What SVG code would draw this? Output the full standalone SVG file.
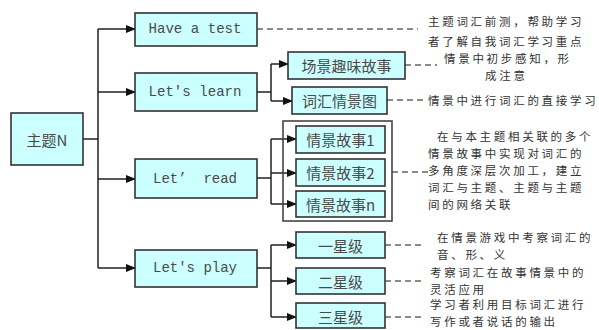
<svg xmlns="http://www.w3.org/2000/svg" width="599" height="330" viewBox="0 0 599 330">
<defs>
<marker id="ah" markerWidth="10" markerHeight="8" refX="9" refY="4" orient="auto" markerUnits="userSpaceOnUse">
<path d="M0,0 L10,4 L0,8 Z" fill="#111"/>
</marker>
<style>
.box{fill:#ccffff;stroke:#333;stroke-width:1.6}
.grp{fill:none;stroke:#444;stroke-width:1.6}
.ln{fill:none;stroke:#222;stroke-width:1.5}
.ar{fill:none;stroke:#222;stroke-width:1.5;marker-end:url(#ah)}
.ds{fill:none;stroke:#666;stroke-width:1.5;stroke-dasharray:6,4}
.en{font-family:"Liberation Mono",monospace;font-size:15px;fill:#4a4a4a;text-anchor:middle;dominant-baseline:central}
.cn{font-family:"Noto Sans CJK SC",sans-serif;font-size:15px;fill:#4a4a4a;text-anchor:middle;dominant-baseline:central}
.nt{font-family:"Noto Sans CJK SC",sans-serif;font-size:11.5px;fill:#333;letter-spacing:2.7px;dominant-baseline:central}
</style>
</defs>
<rect width="599" height="330" fill="#fff"/>
<g id="connectors">
<path class="ln" d="M83,139 H98 M98,29 V268"/>
<path class="ar" d="M98,29 H135"/>
<path class="ar" d="M98,92 H135"/>
<path class="ar" d="M98,179 H135"/>
<path class="ar" d="M98,268 H135"/>
<path class="ln" d="M257,92 H271 M271,64 V101"/>
<path class="ar" d="M271,64 H288"/>
<path class="ar" d="M271,101 H292"/>
<path class="ln" d="M257,178 H271 M271,139 V204"/>
<path class="ar" d="M271,139 H296"/>
<path class="ar" d="M271,173 H296"/>
<path class="ar" d="M271,204 H296"/>
<path class="ln" d="M257,268 H271 M271,245 V317"/>
<path class="ar" d="M271,245 H296"/>
<path class="ar" d="M271,281 H296"/>
<path class="ar" d="M271,317 H296"/>
<path class="ds" d="M257,29 H418"/>
<path class="ds" d="M405,65 H437"/>
<path class="ds" d="M387,100 H425"/>
<path class="ds" d="M392,172 H428"/>
<path class="ds" d="M385,245 H425"/>
<path class="ds" d="M385,281 H423"/>
<path class="ds" d="M385,317 H423"/>
</g>
<g id="root"><rect class="box" x="11" y="113" width="72" height="52"/><text class="cn" x="47" y="139">主题N</text></g>
<g id="test"><rect class="box" x="135" y="13" width="122" height="33"/><text class="en" x="195" y="29" textLength="93" lengthAdjust="spacingAndGlyphs">Have a test</text></g>
<g id="learn"><rect class="box" x="135" y="73" width="122" height="38"/><text class="en" x="195" y="92" textLength="93" lengthAdjust="spacingAndGlyphs">Let's learn</text></g>
<g id="read"><rect class="box" x="135" y="159" width="122" height="39"/><text class="en" x="195" y="179" textLength="84" lengthAdjust="spacingAndGlyphs" xml:space="preserve">Let’  read</text></g>
<g id="play"><rect class="box" x="135" y="250" width="122" height="37"/><text class="en" x="195" y="268" textLength="84" lengthAdjust="spacingAndGlyphs">Let's play</text></g>
<g id="scene"><rect class="box" x="288" y="52" width="117" height="27"/><text class="cn" x="346.5" y="65" font-size="16">场景趣味故事</text></g>
<g id="vocab"><rect class="box" x="292" y="87" width="95" height="27"/><text class="cn" x="339.5" y="100">词汇情景图</text></g>
<g id="readgroup"><rect class="grp" x="283" y="121" width="109" height="100"/></g>
<g id="story1"><rect class="box" x="296" y="126" width="89" height="27"/><text class="cn" x="340.5" y="139">情景故事1</text></g>
<g id="story2"><rect class="box" x="296" y="159" width="89" height="27"/><text class="cn" x="340.5" y="172.5">情景故事2</text></g>
<g id="storyn"><rect class="box" x="296" y="191" width="89" height="26"/><text class="cn" x="340.5" y="204">情景故事n</text></g>
<g id="star1"><rect class="box" x="296" y="232" width="89" height="26"/><text class="cn" x="340.5" y="245">一星级</text></g>
<g id="star2"><rect class="box" x="296" y="268" width="89" height="26"/><text class="cn" x="340.5" y="281">二星级</text></g>
<g id="star3"><rect class="box" x="296" y="303" width="89" height="25"/><text class="cn" x="340.5" y="316">三星级</text></g>
<g id="notes">
<text class="nt" x="428" y="21">主题词汇前测，帮助学习</text>
<text class="nt" x="428" y="41">者了解自我词汇学习重点</text>
<text class="nt" x="444" y="58">情景中初步感知，形</text>
<text class="nt" x="485" y="75">成注意</text>
<text class="nt" x="428" y="100">情景中进行词汇的直接学习</text>
<text class="nt" x="437" y="136">在与本主题相关联的多个</text>
<text class="nt" x="428" y="153">情景故事中实现对词汇的</text>
<text class="nt" x="428" y="170">多角度深层次加工，建立</text>
<text class="nt" x="428" y="187">词汇与主题、主题与主题</text>
<text class="nt" x="428" y="204">间的网络关联</text>
<text class="nt" x="437" y="237">在情景游戏中考察词汇的</text>
<text class="nt" x="437" y="254">音、形、义</text>
<text class="nt" x="430" y="272">考察词汇在故事情景中的</text>
<text class="nt" x="430" y="289">灵活应用</text>
<text class="nt" x="430" y="304">学习者利用目标词汇进行</text>
<text class="nt" x="430" y="321">写作或者说话的输出</text>
</g>
</svg>
